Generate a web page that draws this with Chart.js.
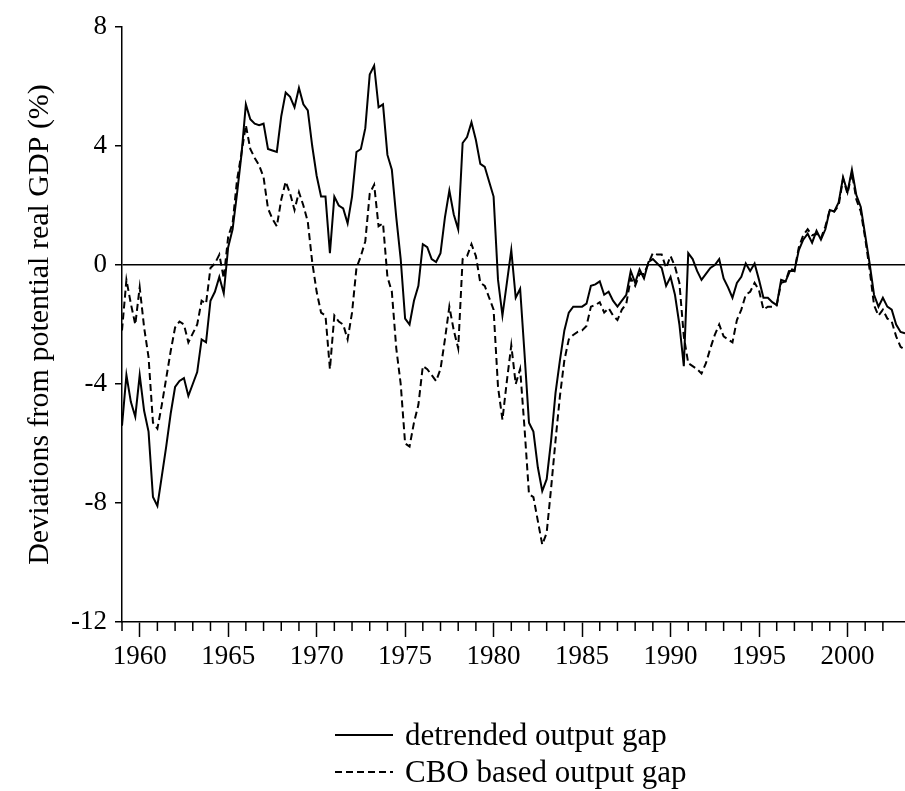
<!DOCTYPE html>
<html>
<head>
<meta charset="utf-8">
<script src="https://cdn.jsdelivr.net/npm/chart.js@4.4.1/dist/chart.umd.min.js"></script>
<style>
html, body { margin: 0; padding: 0; background: #fff; }
#wrap { position: relative; width: 905px; height: 791px; }
#legend { position: absolute; left: 335px; top: 716px; font-family: "Liberation Serif", serif; font-size: 31px; color: #000; }
.item { display: flex; align-items: center; height: 37px; }
.item svg { margin-right: 12px; }
</style>
</head>
<body>
<div id="wrap">
  <canvas id="myChart"></canvas>
  <div id="legend">
    <div class="item"><svg width="58" height="4"><line x1="0" y1="2" x2="58" y2="2" stroke="#000" stroke-width="2"/></svg>detrended output gap</div>
    <div class="item"><svg width="58" height="4"><line x1="0" y1="2" x2="58" y2="2" stroke="#000" stroke-width="2" stroke-dasharray="7 4"/></svg>CBO based output gap</div>
  </div>
</div>
<script>
// quarterly, 1959Q1 .. 2003Q2
var startYear = 1959;
var detrended = [
    -5.4, -3.7, -4.6, -5.1, -3.7, -4.9, -5.6, -7.8, -8.1, -7.1,
    -6.1, -5.0, -4.1, -3.9, -3.8, -4.4, -4.0, -3.6, -2.5, -2.6,
    -1.2, -0.9, -0.4, -0.95, 0.6, 1.2, 2.4, 3.7, 5.4, 4.9,
    4.75, 4.7, 4.75, 3.9, 3.85, 3.8, 5.0, 5.8, 5.65, 5.3,
    5.95, 5.4, 5.2, 4.0, 3.0, 2.3, 2.3, 0.4, 2.3, 2.0,
    1.9, 1.4, 2.3, 3.8, 3.9, 4.6, 6.4, 6.7, 5.3, 5.4,
    3.7, 3.2, 1.6, 0.2, -1.8, -2.0, -1.2, -0.7, 0.7, 0.6,
    0.2, 0.1, 0.4, 1.6, 2.5, 1.7, 1.2, 4.1, 4.3, 4.8,
    4.2, 3.4, 3.3, 2.8, 2.3, -0.5, -1.7, -0.6, 0.5, -1.1,
    -0.8, -3.0, -5.3, -5.6, -6.8, -7.6, -7.2, -5.9, -4.3, -3.2,
    -2.2, -1.6, -1.4, -1.4, -1.4, -1.3, -0.7, -0.65, -0.55, -1.0,
    -0.9, -1.2, -1.4, -1.2, -1.0, -0.2, -0.6, -0.15, -0.45, 0.1,
    0.2, 0.05, -0.1, -0.7, -0.4, -1.0, -2.0, -3.4, 0.4, 0.2,
    -0.2, -0.5, -0.3, -0.1, 0.0, 0.2, -0.45, -0.75, -1.1, -0.6,
    -0.4, 0.05, -0.2, 0.05, -0.5, -1.1, -1.1, -1.25, -1.35, -0.5,
    -0.55, -0.2, -0.2, 0.5, 0.85, 1.05, 0.75, 1.15, 0.85, 1.2,
    1.85, 1.8, 2.1, 2.95, 2.45, 3.2, 2.35, 1.95, 1.0, 0.05,
    -1.0, -1.4, -1.1, -1.4, -1.5, -2.0, -2.25, -2.3
];
var cbo = [
    -2.2, -0.5, -1.3, -2.0, -0.75, -2.1, -3.1, -5.3, -5.5, -4.7,
    -3.8, -2.9, -2.1, -1.9, -2.0, -2.6, -2.3, -2.0, -1.2, -1.3,
    -0.1, 0.05, 0.35, -0.45, 0.95, 1.4, 2.85, 3.75, 4.7, 3.9,
    3.6, 3.35, 2.95, 1.9, 1.55, 1.3, 2.2, 2.8, 2.4, 1.85,
    2.45, 2.0, 1.45, 0.1, -0.9, -1.6, -1.7, -3.5, -1.7, -1.9,
    -2.0, -2.5, -1.6, -0.1, 0.3, 0.8, 2.4, 2.7, 1.3, 1.4,
    -0.4, -0.9, -2.8, -4.0, -6.0, -6.1, -5.3, -4.7, -3.4, -3.5,
    -3.7, -3.9, -3.5, -2.5, -1.4, -2.2, -2.8, 0.2, 0.3, 0.7,
    0.3, -0.6, -0.7, -1.1, -1.5, -4.1, -5.2, -3.9, -2.7, -4.0,
    -3.5, -5.5, -7.7, -7.8, -8.6, -9.4, -9.0, -7.5, -5.9, -4.4,
    -3.2, -2.5, -2.35, -2.25, -2.2, -2.05, -1.4, -1.35, -1.25, -1.6,
    -1.45, -1.7, -1.85, -1.5, -1.3, -0.45, -0.7, -0.3, -0.3, 0.05,
    0.4, 0.35, 0.35, -0.1, 0.3, -0.05, -0.6, -2.4, -3.3, -3.4,
    -3.5, -3.65, -3.3, -2.8, -2.35, -2.0, -2.4, -2.5, -2.6, -1.85,
    -1.5, -1.0, -0.9, -0.6, -0.85, -1.5, -1.4, -1.4, -1.35, -0.6,
    -0.55, -0.1, -0.2, 0.6, 1.0, 1.2, 1.0, 1.05, 0.9, 1.3,
    1.85, 1.8, 2.0, 2.9, 2.4, 3.1, 2.2, 1.8, 0.9, -0.15,
    -1.35, -1.7, -1.5, -1.8, -1.9, -2.4, -2.75, -2.85
];
var yTicks = [-12, -8, -4, 0, 4, 8];
var labelYears = [1960, 1965, 1970, 1975, 1980, 1985, 1990, 1995, 2000];

function toPoints(arr) {
    var pts = [];
    for (let i = 0; i < arr.length; i++) {
        pts.push({ x: startYear + i / 4, y: arr[i] });
    }
    return pts;
}

// short yearly ticks under the x axis (the long ones come from the grid)
var minorTicks = {
    id: 'minorTicks',
    afterDraw(chart) {
        var xs = chart.scales.x;
        var c = chart.ctx;
        c.save();
        c.strokeStyle = '#000';
        c.lineWidth = 1.5;
        xs.ticks.forEach(function (t) {
            if (labelYears.indexOf(t.value) >= 0) return;
            var px = xs.getPixelForValue(t.value);
            c.beginPath();
            c.moveTo(px, xs.top);
            c.lineTo(px, xs.top + 9);
            c.stroke();
        });
        c.restore();
    }
};

Chart.defaults.font.family = '"Liberation Serif", serif';
Chart.defaults.color = '#000';

var ctx = document.getElementById('myChart');
var chart = new Chart(ctx, {
    type: 'line',
    data: {
        datasets: [
            {
                label: 'detrended output gap',
                data: toPoints(detrended),
                borderColor: '#000',
                borderWidth: 2,
                pointRadius: 0,
                tension: 0,
                fill: false
            },
            {
                label: 'CBO based output gap',
                data: toPoints(cbo),
                borderColor: '#000',
                borderWidth: 2,
                borderDash: [7, 4],
                pointRadius: 0,
                tension: 0,
                fill: false
            }
        ]
    },
    options: {
        responsive: true,
        maintainAspectRatio: false,
        animation: false,
        layout: { padding: { top: 27, right: 0, bottom: 109, left: 0 } },
        scales: {
            x: {
                type: 'linear',
                min: startYear,
                max: startYear + (detrended.length - 1) / 4,
                afterBuildTicks: function (s) {
                    s.ticks = s.ticks.filter(function (t) { return Number.isInteger(t.value); });
                },
                afterFit: function (s) { s.height = 60; },
                ticks: {
                    stepSize: 1,
                    autoSkip: false,
                    maxRotation: 0,
                    padding: 4,
                    font: { size: 27 },
                    callback: function (v) { return labelYears.indexOf(v) >= 0 ? String(v) : ''; }
                },
                grid: {
                    drawOnChartArea: false,
                    tickLength: 15,
                    tickWidth: 1.5,
                    tickColor: function (c) { return c.tick && labelYears.indexOf(c.tick.value) >= 0 ? '#000' : 'rgba(0,0,0,0)'; }
                },
                border: { display: true, color: '#000', width: 1.5 }
            },
            y: {
                min: -12,
                max: 8,
                afterBuildTicks: function (s) {
                    s.ticks = yTicks.map(function (v) { return { value: v }; });
                },
                afterFit: function (s) { s.width = 122; },
                ticks: {
                    padding: 8,
                    font: { size: 27 }
                },
                grid: {
                    tickLength: 7,
                    tickWidth: 1.5,
                    tickColor: '#000',
                    lineWidth: 1.5,
                    color: function (c) { return c.tick && c.tick.value === 0 ? '#000' : 'rgba(0,0,0,0)'; }
                },
                border: { display: true, color: '#000', width: 1.5 },
                title: {
                    display: true,
                    text: 'Deviations from potential real GDP (%)',
                    font: { size: 30 },
                    padding: { top: 22, bottom: 0 }
                }
            }
        },
        plugins: {
            legend: { display: false },
            tooltip: { enabled: false }
        }
    },
    plugins: [minorTicks]
});
</script>
</body>
</html>
